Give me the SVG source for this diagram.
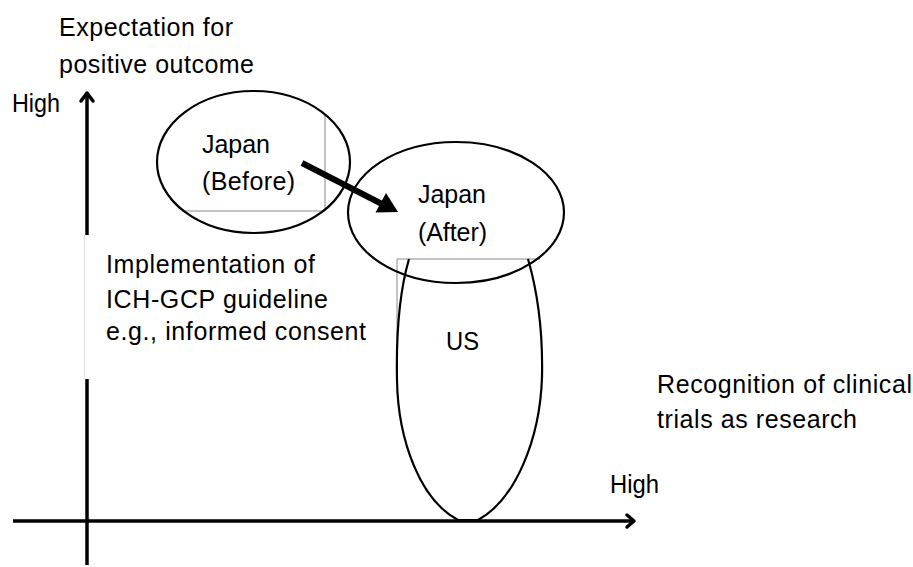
<svg xmlns="http://www.w3.org/2000/svg" width="913" height="567" viewBox="0 0 913 567">
  <style>
    text { font-family: "Liberation Sans", Arial, sans-serif; font-size: 25px; fill: #000; }
    .outline { fill: none; stroke: #000; stroke-width: 2.2; }
    .frame { fill: none; stroke: #888; stroke-width: 1; }
    .axis { fill: none; stroke: #000; stroke-width: 3.5; }
    .tip { fill: none; stroke: #000; stroke-width: 3.5; stroke-linecap: round; stroke-linejoin: round; }
  </style>
  <rect width="913" height="567" fill="#fff"/>

  <!-- axes -->
  <g id="axes">
    <line class="axis" x1="13" y1="521" x2="634" y2="521"/>
    <polyline class="tip" points="627,515 634,521 627,527"/>
    <line class="axis" x1="87" y1="565" x2="87" y2="379"/>
    <line class="axis" x1="87" y1="235" x2="87" y2="95"/>
    <polyline class="tip" points="81,101 87,93 93,101"/>
    <line x1="84.5" y1="235" x2="84.5" y2="379" stroke="#ddd" stroke-width="1"/>
  </g>

  <!-- axis titles -->
  <g id="y-axis-label">
    <text x="59" y="36" textLength="174" lengthAdjust="spacing">Expectation for</text>
    <text x="59" y="73" textLength="195" lengthAdjust="spacing">positive outcome</text>
    <text x="12" y="112" textLength="48" lengthAdjust="spacingAndGlyphs">High</text>
  </g>
  <g id="x-axis-label">
    <text x="657" y="393" textLength="255" lengthAdjust="spacing">Recognition of clinical</text>
    <text x="657" y="428" textLength="200" lengthAdjust="spacing">trials as research</text>
    <text x="610" y="493" textLength="49" lengthAdjust="spacingAndGlyphs">High</text>
  </g>

  <!-- US region -->
  <g id="us">
    <path class="frame" d="M397,377 V259 H540"/>
    <path class="outline" d="M409,259 C400,290 396,330 397,380 C398,440 420,500 458,520 L478,520 C515,500 540,440 542,377 C543,330 537,290 528,259"/>
    <text x="446" y="350" textLength="33" lengthAdjust="spacingAndGlyphs">US</text>
  </g>

  <!-- Japan before -->
  <g id="japan-before">
    <path class="frame" d="M182,211 H325 V115"/>
    <ellipse class="outline" cx="253.5" cy="162" rx="96.5" ry="71"/>
    <text x="202" y="153" textLength="68" lengthAdjust="spacing">Japan</text>
    <text x="202" y="190" textLength="93" lengthAdjust="spacing">(Before)</text>
  </g>

  <!-- Japan after -->
  <g id="japan-after">
    <ellipse class="outline" cx="456" cy="212.5" rx="108" ry="70.5"/>
    <text x="418" y="203" textLength="68" lengthAdjust="spacing">Japan</text>
    <text x="418" y="241" textLength="69" lengthAdjust="spacing">(After)</text>
  </g>

  <!-- ICH-GCP note -->
  <g id="ich-gcp">
    <text x="106" y="273" textLength="209" lengthAdjust="spacing">Implementation of</text>
    <text x="106" y="308" textLength="222" lengthAdjust="spacing">ICH-GCP guideline</text>
    <text x="106" y="340" textLength="260" lengthAdjust="spacing">e.g., informed consent</text>
  </g>

  <!-- shift from before to after -->
  <g id="connectors">
    <line x1="302" y1="163" x2="381" y2="203.5" stroke="#000" stroke-width="6"/>
    <polygon points="398,212 375.5,212.5 386,193" fill="#000"/>
  </g>
</svg>
